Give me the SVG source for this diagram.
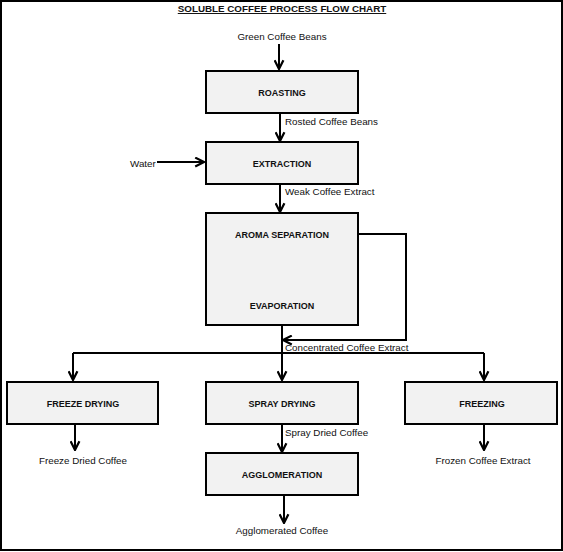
<svg xmlns="http://www.w3.org/2000/svg" width="563" height="552" viewBox="0 0 563 552">
<style>
.box{fill:#f2f2f2;stroke:#000;stroke-width:2}
.bl{font-family:"Liberation Sans",Arial,sans-serif;font-size:9px;font-weight:bold;text-anchor:middle;fill:#111}
.lb{font-family:"Liberation Sans",Arial,sans-serif;font-size:9.8px;fill:#111}
.c{stroke:#000;stroke-width:2;fill:none}
</style>
<defs>
<marker id="ah" viewBox="0 0 10 10" refX="9" refY="5" markerWidth="5.5" markerHeight="5.5" orient="auto" markerUnits="strokeWidth">
<path d="M1,1 L9,5 L1,9" fill="none" stroke="#000" stroke-width="2"/>
</marker>
</defs>
<rect x="1" y="1" width="561" height="549" fill="#fff" stroke="#000" stroke-width="2"/>
<g id="title">
<text x="282" y="12" style="font-family:'Liberation Sans',Arial,sans-serif;font-size:9.8px;font-weight:bold;text-anchor:middle;text-decoration:underline;fill:#111">SOLUBLE COFFEE PROCESS FLOW CHART</text>
</g>
<g id="connectors">
<line class="c" x1="279" y1="44" x2="279" y2="69" marker-end="url(#ah)"/>
<line class="c" x1="280" y1="113" x2="280" y2="141" marker-end="url(#ah)"/>
<line class="c" x1="157" y1="162" x2="204" y2="162" marker-end="url(#ah)"/>
<line class="c" x1="280" y1="184" x2="280" y2="212" marker-end="url(#ah)"/>
<polyline class="c" points="358,234 406,234 406,340 283,340" marker-end="url(#ah)"/>
<line class="c" x1="282" y1="325" x2="282" y2="380" marker-end="url(#ah)"/>
<line class="c" x1="73" y1="353" x2="484" y2="353" stroke-width="1.5"/>
<line class="c" x1="73" y1="353" x2="73" y2="380" marker-end="url(#ah)"/>
<line class="c" x1="484" y1="353" x2="484" y2="380" marker-end="url(#ah)"/>
<line class="c" x1="75" y1="424" x2="75" y2="450" marker-end="url(#ah)"/>
<line class="c" x1="282" y1="424" x2="282" y2="452" marker-end="url(#ah)"/>
<line class="c" x1="484" y1="424" x2="484" y2="450" marker-end="url(#ah)"/>
<line class="c" x1="284" y1="494" x2="284" y2="523" marker-end="url(#ah)"/>
</g>
<g id="labels">
<text class="lb" x="282" y="40" text-anchor="middle">Green Coffee Beans</text>
<text class="lb" x="285" y="125">Rosted Coffee Beans</text>
<text class="lb" x="130" y="167">Water</text>
<text class="lb" x="285" y="195">Weak Coffee Extract</text>
<text class="lb" x="285" y="351">Concentrated Coffee Extract</text>
<text class="lb" x="285" y="436">Spray Dried Coffee</text>
<text class="lb" x="83" y="464" text-anchor="middle">Freeze Dried Coffee</text>
<text class="lb" x="483" y="464" text-anchor="middle">Frozen Coffee Extract</text>
<text class="lb" x="282" y="534" text-anchor="middle">Agglomerated Coffee</text>
</g>
<g id="roasting"><rect class="box" x="206" y="71" width="152" height="42"/><text class="bl" x="282" y="96">ROASTING</text></g>
<g id="extraction"><rect class="box" x="206" y="142" width="152" height="42"/><text class="bl" x="282" y="167">EXTRACTION</text></g>
<g id="aroma-evaporation"><rect class="box" x="206" y="213" width="152" height="112"/><text class="bl" x="282" y="238">AROMA SEPARATION</text><text class="bl" x="282" y="309">EVAPORATION</text></g>
<g id="freeze-drying"><rect class="box" x="7" y="382" width="151" height="42"/><text class="bl" x="83" y="407">FREEZE DRYING</text></g>
<g id="spray-drying"><rect class="box" x="206" y="382" width="152" height="42"/><text class="bl" x="282" y="407">SPRAY DRYING</text></g>
<g id="freezing"><rect class="box" x="405" y="382" width="152" height="42"/><text class="bl" x="482" y="407">FREEZING</text></g>
<g id="agglomeration"><rect class="box" x="206" y="453" width="152" height="42"/><text class="bl" x="282" y="478">AGGLOMERATION</text></g>
</svg>
